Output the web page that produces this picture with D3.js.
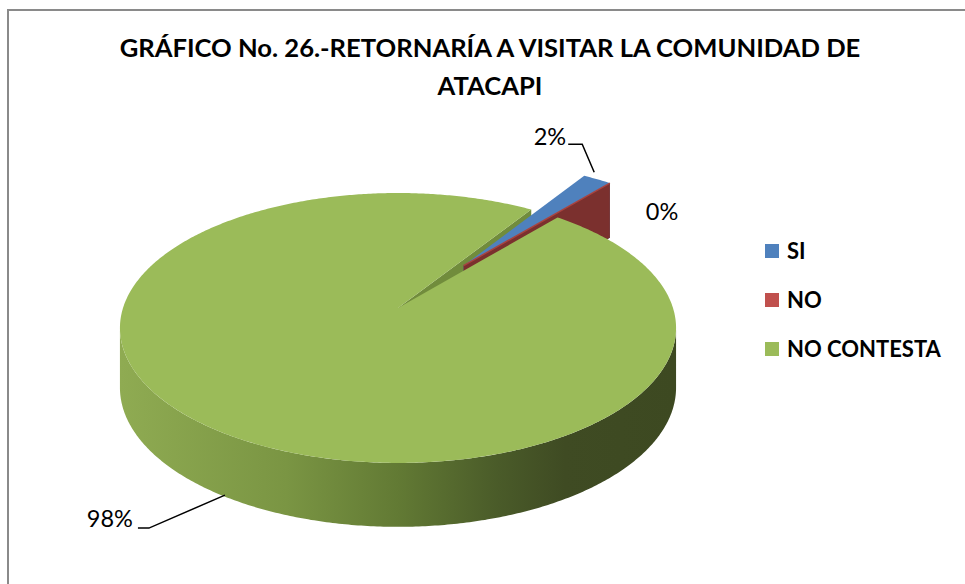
<!DOCTYPE html>
<html>
<head>
<meta charset="utf-8">
<script src="https://cdn.jsdelivr.net/npm/d3@7"></script>
<style>
  body { margin: 0; background: #fff; }
  svg { display: block; font-family: Lato, "Open Sans", sans-serif; }
</style>
</head>
<body>
<div id="chart"></div>
<script>
// data
const categories = ["SI", "NO", "NO CONTESTA"];
const percents = [2, 0, 98];
const exploded = [true, true, false];
const colors = ["#4f81bd", "#c0504d", "#9bbb59"];
const faceColors = ["#3f6797", "#7b302e", "#718c3c"];
const titleLines = ["GRÁFICO No. 26.-RETORNARÍA A VISITAR LA COMUNIDAD DE", "ATACAPI"];

const width = 965, height = 584;

const svg = d3.select("#chart")
  .append("svg")
  .attr("width", width)
  .attr("height", height);

// chart area border (only left and top edges fall inside the picture)
svg.append("rect")
  .attr("x", 8).attr("y", 10)
  .attr("width", 1000).attr("height", 1000)
  .attr("fill", "#fff")
  .attr("stroke", "#8a8a8a")
  .attr("stroke-width", 2);

// title
svg.append("text")
  .attr("text-anchor", "middle")
  .attr("font-weight", "bold")
  .attr("font-size", 25.6)
  .attr("fill", "#000")
  .selectAll("tspan")
  .data(titleLines)
  .enter()
  .append("tspan")
  .attr("x", 490)
  .attr("y", (d, i) => 57 + i * 38)
  .text(d => d);

// 3d pie geometry with a little perspective
const cx = 398, cy = 308, rx = 275, ry = 132, k = 0.148, depth = 59;
const explodeDist = 0.42;
const startAngle = 33 * Math.PI / 180;

function proj(u, v, z) {
  const s = 1 / (1 - k * v);
  return [cx + rx * u * s, cy + ry * v * s + z * depth * Math.sqrt(s)];
}
function pt(a, r, z, o) {
  return proj(o[0] + r * Math.sin(a), o[1] - r * Math.cos(a), z);
}
function arcPts(a0, a1, z, o) {
  const n = Math.max(2, Math.ceil(Math.abs(a1 - a0) / 0.01));
  return d3.range(n + 1).map(i => pt(a0 + (a1 - a0) * i / n, 1, z, o));
}

const pie = d3.pie()
  .sort(null)
  .value(d => d)
  .startAngle(startAngle)
  .endAngle(startAngle + 2 * Math.PI);

const arcs = pie(percents);

// exploded slices move together along the middle of their group
const expArcs = arcs.filter((d, i) => exploded[i]);
const expMid = (d3.min(expArcs, d => d.startAngle) + d3.max(expArcs, d => d.endAngle)) / 2;
const expOffset = [explodeDist * Math.sin(expMid), -explodeDist * Math.cos(expMid)];
arcs.forEach((d, i) => { d.off = exploded[i] ? expOffset : [0, 0]; d.i = i; });

const line = d3.line();

const defs = svg.append("defs");
const wallGrad = defs.append("linearGradient")
  .attr("id", "wall")
  .attr("gradientUnits", "userSpaceOnUse")
  .attr("x1", cx - rx * 1.01).attr("x2", cx + rx * 1.01)
  .attr("y1", 0).attr("y2", 0);
[["0", "#8fab52"], ["0.3", "#7a9543"], ["0.5", "#627a34"], ["0.68", "#4a5b29"], ["0.8", "#3f4b23"], ["1", "#3d4921"]]
  .forEach(s => wallGrad.append("stop").attr("offset", s[0]).attr("stop-color", s[1]));

// visible part of the outer wall
const visLo = Math.acos(-k), visHi = 2 * Math.PI - Math.acos(-k);
function wallRange(d) {
  for (const shift of [0, 2 * Math.PI, -2 * Math.PI]) {
    const lo = Math.max(d.startAngle, visLo + shift), hi = Math.min(d.endAngle, visHi + shift);
    if (hi > lo) return [lo, hi];
  }
  return null;
}

const pieG = svg.append("g");

function drawSides(d) {
  const g = pieG.append("g");
  const o = d.off;
  // end face (facing front-right)
  if (Math.sin(d.endAngle) > 0) {
    const a = d.endAngle;
    g.append("path")
      .attr("d", line([pt(a, 0, 0, o), pt(a, 1, 0, o), pt(a, 1, 1, o), pt(a, 0, 1, o)]) + "Z")
      .attr("fill", faceColors[d.i]);
  }
  // start face (facing front-left)
  if (Math.sin(d.startAngle) < 0) {
    const a = d.startAngle;
    g.append("path")
      .attr("d", line([pt(a, 0, 0, o), pt(a, 1, 0, o), pt(a, 1, 1, o), pt(a, 0, 1, o)]) + "Z")
      .attr("fill", faceColors[d.i]);
  }
  const wr = wallRange(d);
  if (wr) {
    const top = arcPts(wr[0], wr[1], 0, o);
    const bot = arcPts(wr[1], wr[0], 1, o);
    g.append("path")
      .attr("d", line(top.concat(bot)) + "Z")
      .attr("fill", d.i === 2 ? "url(#wall)" : faceColors[d.i]);
  }
}
function drawTop(d) {
  const o = d.off;
  const pts = [pt(0, 0, 0, o)].concat(arcPts(d.startAngle, d.endAngle, 0, o));
  pieG.append("path")
    .attr("d", line(pts) + "Z")
    .attr("fill", colors[d.i])
    .attr("stroke", d.value === 0 ? "#a8433f" : "none")
    .attr("stroke-width", 1.5);
}

const still = arcs.filter(d => !exploded[d.i]);
const moved = arcs.filter(d => exploded[d.i]);
still.forEach(drawSides);
moved.forEach(drawSides);
moved.forEach(drawTop);
still.forEach(drawTop);

// data labels with leader lines
const labelCfg = [
  { z: 0, shift: [-3, -7], leader: [[-12, -28], [-26, -28]], dx: -2, dy: 1, anchor: "end" },
  { z: 0, shift: [0, 0], leader: null, dx: 36, dy: 37, anchor: "start" },
  { z: 1, shift: [13, 4], leader: [[-76, 33], [-87, 33]], dx: -5, dy: -1, anchor: "end" }
];
const labelG = svg.append("g").attr("font-size", 23.5).attr("fill", "#000");
arcs.forEach(d => {
  const c = labelCfg[d.i];
  const mid = (d.startAngle + d.endAngle) / 2;
  const p0 = pt(mid, 1, c.z, d.off);
  const p = [p0[0] + c.shift[0], p0[1] + c.shift[1]];
  let tx = p[0] + c.dx, ty = p[1] + c.dy;
  if (c.leader) {
    const pts = [p].concat(c.leader.map(q => [p[0] + q[0], p[1] + q[1]]));
    labelG.append("path")
      .attr("d", line(pts))
      .attr("fill", "none")
      .attr("stroke", "#000")
      .attr("stroke-width", 1.5);
    const last = pts[pts.length - 1];
    tx = last[0] + c.dx; ty = last[1] + c.dy;
  }
  labelG.append("text")
    .attr("x", tx).attr("y", ty)
    .attr("text-anchor", c.anchor)
    .text(Math.round(d.value) + "%");
});

// legend
const legend = svg.append("g")
  .attr("transform", "translate(765,244)")
  .selectAll("g")
  .data(categories)
  .enter()
  .append("g")
  .attr("transform", (d, i) => `translate(0,${i * 49})`);

legend.append("rect")
  .attr("width", 14).attr("height", 14)
  .attr("fill", (d, i) => colors[i]);

legend.append("text")
  .attr("x", 22).attr("y", 15)
  .attr("font-size", 22)
  .attr("font-weight", "bold")
  .text(d => d);
</script>
</body>
</html>
